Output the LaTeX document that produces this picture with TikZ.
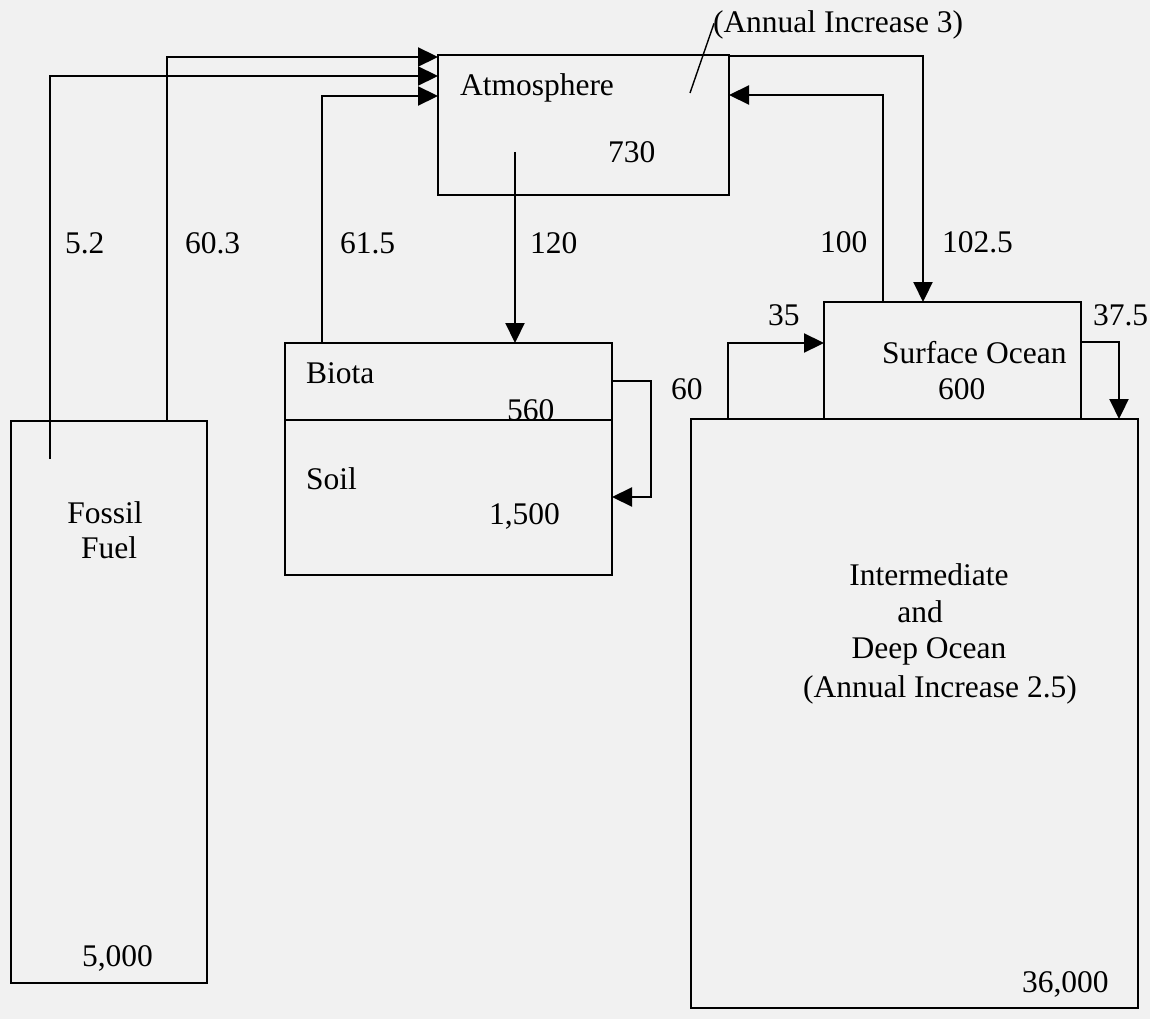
\documentclass[tikz,border=0pt]{standalone}
\usepackage{fontspec}
\setmainfont{Liberation Serif}
\usetikzlibrary{arrows.meta}
\definecolor{paper}{RGB}{241,241,241}
\begin{document}
\begin{tikzpicture}[x=1pt,y=-1pt,
  line width=2.2pt,
  box/.style={draw,rectangle,inner sep=0pt,outer sep=0pt},
  lbl/.style={inner sep=0pt,outer sep=0pt,anchor=base west,font=\fontsize{31.5}{37}\selectfont},
  clbl/.style={inner sep=0pt,outer sep=0pt,anchor=base,font=\fontsize{31.5}{37}\selectfont},
  arr/.style={-{Triangle[length=20pt,width=19pt]}}]
\fill[paper] (0,0) rectangle (1150,1019);
\useasboundingbox (0,0) rectangle (1150,1019);
% boxes
\node[box,minimum width=291pt,minimum height=140pt] (atm) at (583.5,125) {};
\node[box,minimum width=327pt,minimum height=77pt] (biota) at (448.5,381.5) {};
\node[box,minimum width=327pt,minimum height=155pt] (soil) at (448.5,497.5) {};
\node[box,minimum width=196pt,minimum height=562pt] (fossil) at (109,702) {};
\node[box,minimum width=447pt,minimum height=589pt] (deep) at (914.5,713.5) {};
\node[box,minimum width=257pt,minimum height=117pt] (surf) at (952.5,360.5) {};
% box texts
\node[lbl] (tatm) at (460,96) {Atmosphere};
\node[lbl] (v730) at (608,163) {730};
\node[lbl] (ann) at (713,33) {(Annual Increase 3)};
\node[lbl] (tbiota) at (306,383) {Biota};
\node[lbl] (v560) at (507,420) {560};
\node[lbl] (tsoil) at (306,489) {Soil};
\node[lbl] (v1500) at (489,524) {1,500};
\node[clbl] (tfos1) at (105,523) {Fossil};
\node[clbl] (tfos2) at (109,558) {Fuel};
\node[lbl] (v5000) at (82,966) {5,000};
\node[lbl] (tsurf) at (882,363) {Surface Ocean};
\node[lbl] (v600) at (938,399) {600};
\node[clbl] (td1) at (929,585) {Intermediate};
\node[clbl] (td2) at (920,622) {and};
\node[clbl] (td3) at (929,658) {Deep Ocean};
\node[clbl] (td4) at (940,697) {(Annual Increase 2.5)};
\node[lbl] (v36000) at (1022,992) {36,000};
% flow labels
\node[lbl] (f52) at (65,253) {5.2};
\node[lbl] (f603) at (185,253) {60.3};
\node[lbl] (f615) at (340,253) {61.5};
\node[lbl] (f120) at (530,253) {120};
\node[lbl] (f100) at (820,252) {100};
\node[lbl] (f1025) at (942,252) {102.5};
\node[lbl] (f35) at (768,325) {35};
\node[lbl] (f375) at (1093,325) {37.5};
\node[lbl] (f60) at (671,399) {60};
% free ends
\coordinate (ffin) at (50,459);
\coordinate (atmin) at (515,152);
\coordinate (atmmark) at (690,93);
% connectors
\draw[arr] (ffin) |- ([yshift=-21pt]atm.north west);
\draw[arr] ([xshift=156pt]fossil.north west) |- ([yshift=-2pt]atm.north west);
\draw[arr] ([xshift=37pt]biota.north west) |- ([yshift=-41pt]atm.north west);
\draw[arr] (atmin) -- (atmin |- biota.north);
\draw[arr] ([yshift=-1pt]atm.north east) -| ([xshift=99pt]surf.north west);
\draw[arr] ([xshift=59pt]surf.north west) |- ([yshift=-40pt]atm.north east);
\draw[arr] ([xshift=37pt]deep.north west) |- ([yshift=-41pt]surf.north west);
\draw[arr] ([yshift=-40pt]surf.north east) -| ([xshift=-19pt]deep.north east);
\draw[arr] ([yshift=-38pt]biota.north east) -- ++(39pt,0) |- ([yshift=-77pt]soil.north east);
\draw[line width=1.4pt] (atmmark) -- ([xshift=1pt,yshift=2pt]ann.west);
\end{tikzpicture}
\end{document}
